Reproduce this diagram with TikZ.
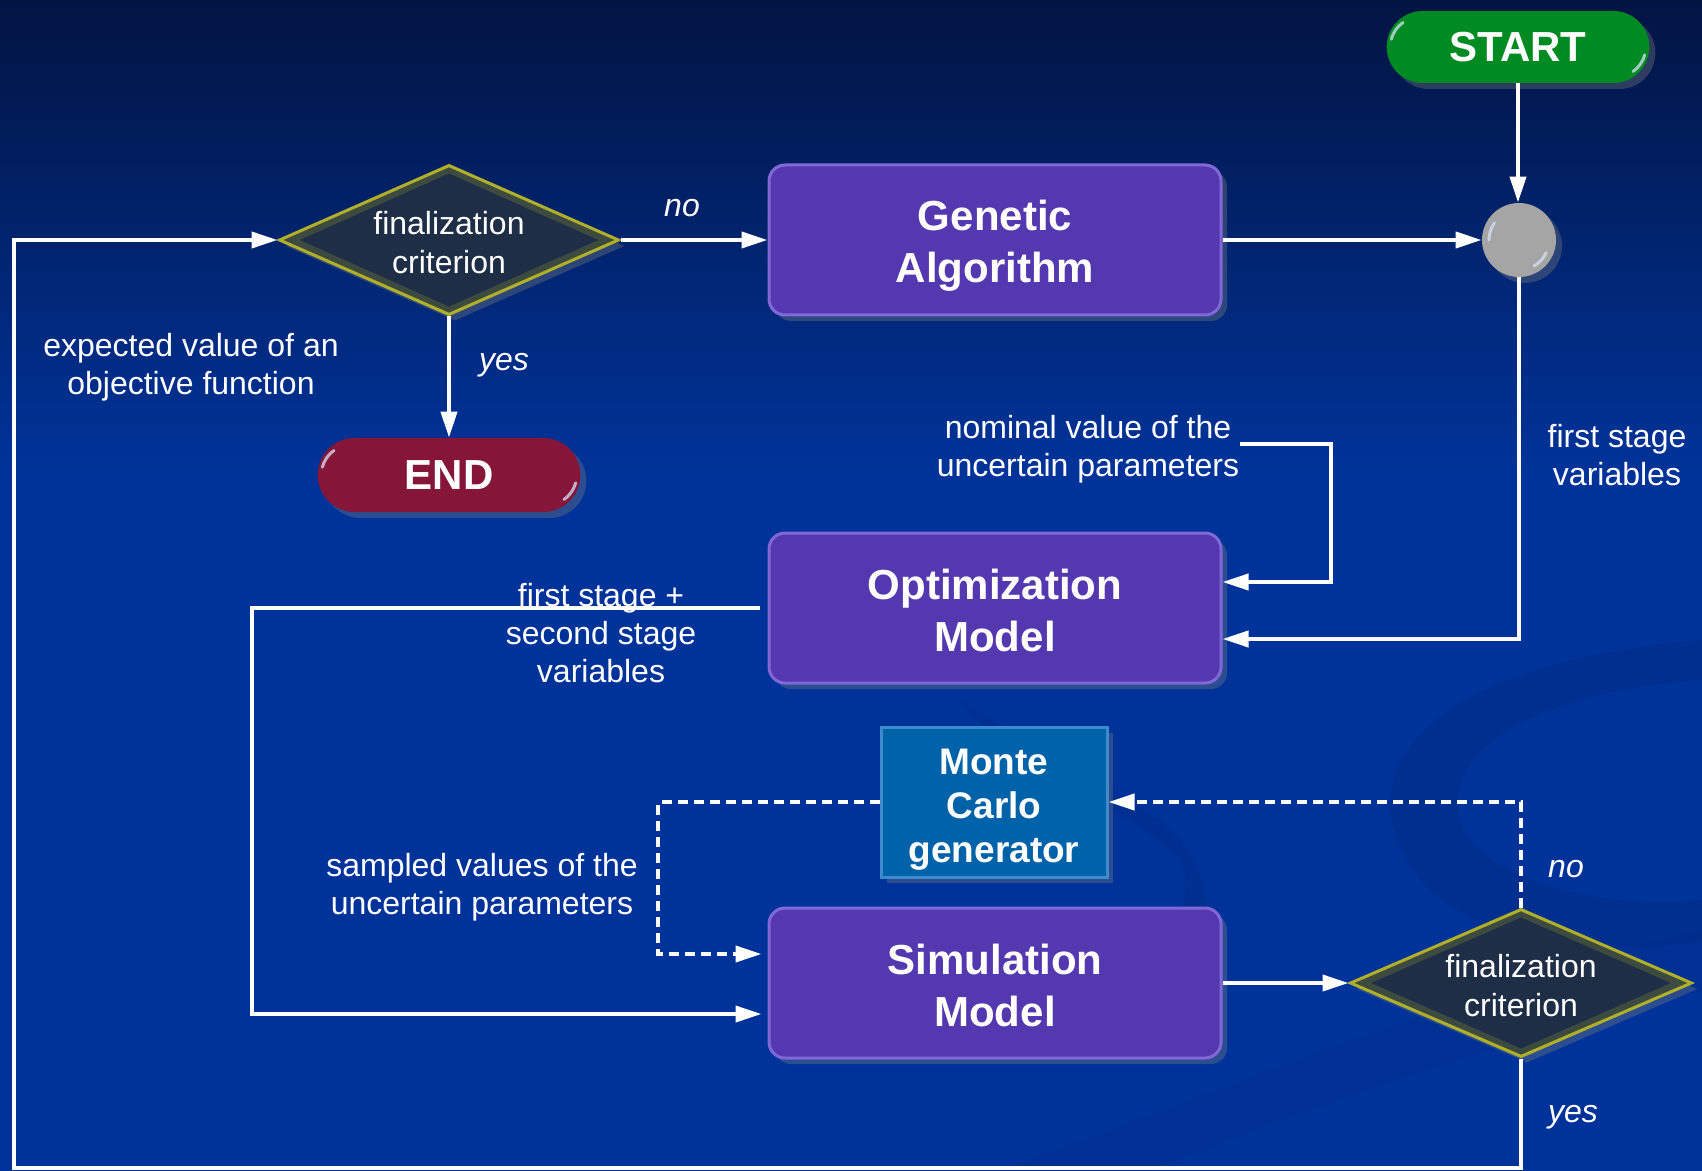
\documentclass[tikz,border=0pt]{standalone}
\usepackage{fontspec}
\setmainfont{Liberation Sans}
\usetikzlibrary{shapes.geometric,shapes.misc,arrows.meta,shadows}

\definecolor{bgtop}{RGB}{2,20,66}
\definecolor{bgblue}{RGB}{0,51,153}
\definecolor{bgdark}{RGB}{0,40,130}
\definecolor{boxfill}{RGB}{84,56,176}
\definecolor{boxedge}{RGB}{128,104,216}
\definecolor{mcfill}{RGB}{0,98,168}
\definecolor{mcedge}{RGB}{60,140,205}
\definecolor{diafill}{RGB}{30,46,70}
\definecolor{diaedge}{RGB}{175,175,40}
\definecolor{startgreen}{RGB}{0,138,34}
\definecolor{endred}{RGB}{133,22,58}
\definecolor{juncgray}{RGB}{165,165,165}
\newcommand{\toppad}[1]{\rule{0pt}{#1}}
\newcommand{\botpad}{\rule[-5pt]{0pt}{5pt}}

\begin{document}
\begin{tikzpicture}[x=0.5pt,y=-0.5pt,
  shade/.style={drop shadow={opacity=0.35,shadow xshift=3pt,shadow yshift=-3pt}},
  box/.style={draw=boxedge,line width=1.5pt,fill=boxfill,rounded corners=8pt,
    minimum width=226pt,minimum height=75pt,text=white,align=center,
    font=\bfseries\fontsize{21}{26}\selectfont,shade},
  mcbox/.style={draw=mcedge,line width=1.5pt,fill=mcfill,
    minimum width=113pt,minimum height=75pt,text=white,align=center,inner sep=0pt,
    font=\bfseries\fontsize{18.5}{22}\selectfont,shade},
  dia/.style={diamond,aspect=2.25,minimum width=170pt,minimum height=75pt,inner sep=0pt,
    fill=diafill,draw=diaedge,line width=1.5pt,text=white,align=center,
    font=\fontsize{16}{19.5}\selectfont,shade},
  pill/.style={rounded rectangle,minimum width=138pt,minimum height=36pt,text=white,
    font=\bfseries\fontsize{21}{25}\selectfont,shade},
  lab/.style={text=white,align=center,inner sep=0pt,font=\fontsize{16}{19}\selectfont},
  ilab/.style={text=white,inner sep=0pt,font=\itshape\fontsize{16}{19}\selectfont},
  arr/.style={draw=white,line width=2pt,-{Triangle[length=13pt,width=8pt]}},
  darr/.style={arr,dash pattern=on 5pt off 3pt},
  glint/.style={draw={rgb,255:red,215;green,225;blue,245},line width=1.5pt,line cap=round,opacity=0.75},
  glow/.style={draw=diaedge,line width=9pt,opacity=0.22}
]
\useasboundingbox (0,0) rectangle (1702,1171);
% background
\shade[top color=bgtop,bottom color=bgblue] (0,0) rectangle (1702,470);
\fill[bgblue] (0,469) rectangle (1702,1171);
% faint swooshes
\fill[bgdark,opacity=0.35] (1702,640) .. controls (1450,660) and (1330,760) .. (1420,880)
  .. controls (1470,940) and (1600,960) .. (1702,940) -- (1702,900)
  .. controls (1600,910) and (1480,880) .. (1460,820)
  .. controls (1440,740) and (1560,690) .. (1702,680) -- cycle;
\fill[bgdark,opacity=0.3] (960,700) .. controls (1000,760) and (1120,800) .. (1180,860)
  .. controls (1200,900) and (1160,950) .. (1130,990) -- (1160,990)
  .. controls (1220,930) and (1220,870) .. (1160,820)
  .. controls (1100,780) and (1020,740) .. (960,700) -- cycle;
\fill[bgdark,opacity=0.25] (1000,1171) .. controls (1300,1060) and (1500,980) .. (1702,930)
  -- (1702,990) .. controls (1500,1040) and (1300,1110) .. (1150,1171) -- cycle;

% nodes
\node[pill,fill=startgreen] (start) at (1518,47) {START};
\node[circle,fill=juncgray,minimum size=37pt,inner sep=0pt,shade] (junc) at (1519,240) {};
\node[box] (ga) at (995,240) {\toppad{22pt}Genetic\\Algorithm\botpad};
\node[dia] (dia1) at (449,240) {\toppad{14pt}finalization\\criterion};
\node[pill,fill=endred,minimum width=138pt,minimum height=37pt] (endn) at (449,475) {END};
\node[box] (om) at (995,608) {\toppad{22pt}Optimization\\Model\botpad};
\node[mcbox] (mc) at (994,802) {\toppad{20pt}Monte\\Carlo\\generator};
\node[box] (sm) at (995,983) {\toppad{22pt}Simulation\\Model\botpad};
\node[dia,minimum width=171pt,minimum height=74pt] (dia2) at (1521,983) {\toppad{14pt}finalization\\criterion};

% diamond inner glow
\begin{scope}
  \clip (dia1.north) -- (dia1.east) -- (dia1.south) -- (dia1.west) -- cycle;
  \draw[glow] (dia1.north) -- (dia1.east) -- (dia1.south) -- (dia1.west) -- cycle;
\end{scope}
\begin{scope}
  \clip (dia2.north) -- (dia2.east) -- (dia2.south) -- (dia2.west) -- cycle;
  \draw[glow] (dia2.north) -- (dia2.east) -- (dia2.south) -- (dia2.west) -- cycle;
\end{scope}

% glints
\draw[glint] (junc.center) ++(145:15pt) arc[start angle=145,end angle=180,radius=15pt];
\draw[glint] (junc.center) ++(-25:15pt) arc[start angle=-25,end angle=-60,radius=15pt];
\draw[glint] ([xshift=17pt]start.west) ++(125:15pt) arc[start angle=125,end angle=165,radius=15pt];
\draw[glint] ([xshift=-17pt]start.east) ++(-15:15pt) arc[start angle=-15,end angle=-55,radius=15pt];
\draw[glint] ([xshift=17pt]endn.west) ++(125:15pt) arc[start angle=125,end angle=165,radius=15pt];
\draw[glint] ([xshift=-17pt]endn.east) ++(-15:15pt) arc[start angle=-15,end angle=-55,radius=15pt];

% labels
\node[ilab] (no1) at (682,208) {no};
\node[ilab] (yes1) at (504,365) {yes};
\node[lab] (expv) at (191,367) {expected value of an\\objective function};
\node[lab] (nom) at (1088,449) {nominal value of the\\uncertain parameters};
\node[lab] (fsv) at (1617,455) {first stage\\variables};
\node[lab] (fssv) at (601,633) {first stage +\\second stage\\variables};
\node[lab] (samp) at (482,887) {sampled values of the\\uncertain parameters};
\node[ilab] (no2) at (1566,869) {no};
\node[ilab] (yes2) at (1573,1117) {yes};

% connectors
\coordinate (c1) at (0,639);
\coordinate (c2) at (1331,582);
\coordinate (c3) at (252,1014);
\coordinate (c5) at (658,954);
\coordinate (c6) at (14,1168);
\coordinate (c7) at (0,444);

\draw[arr] (start.south) -- (start.south |- junc.north);
\draw[arr] (ga.east) -- (junc.west);
\draw[arr] (dia1.east) -- (ga.west);
\draw[arr] (dia1.south) -- (endn.north);
\draw[arr] (junc.south) |- (om.east |- c1);
\draw[arr] (nom.east |- c7) -| (c2) -- (c2 -| om.east);
\draw[arr] ([xshift=-4pt]om.west) -| (c3) -- ([xshift=-3pt]c3 -| sm.west);
\draw[arr] (sm.east) -- (dia2.west);
\draw[darr] (dia2.north) |- (mc.east);
\draw[darr] (mc.west) -| (c5) -- ([xshift=-3pt]c5 -| sm.west);
\draw[arr] (dia2.south) |- (c6) |- (dia1.west);
\end{tikzpicture}
\end{document}
